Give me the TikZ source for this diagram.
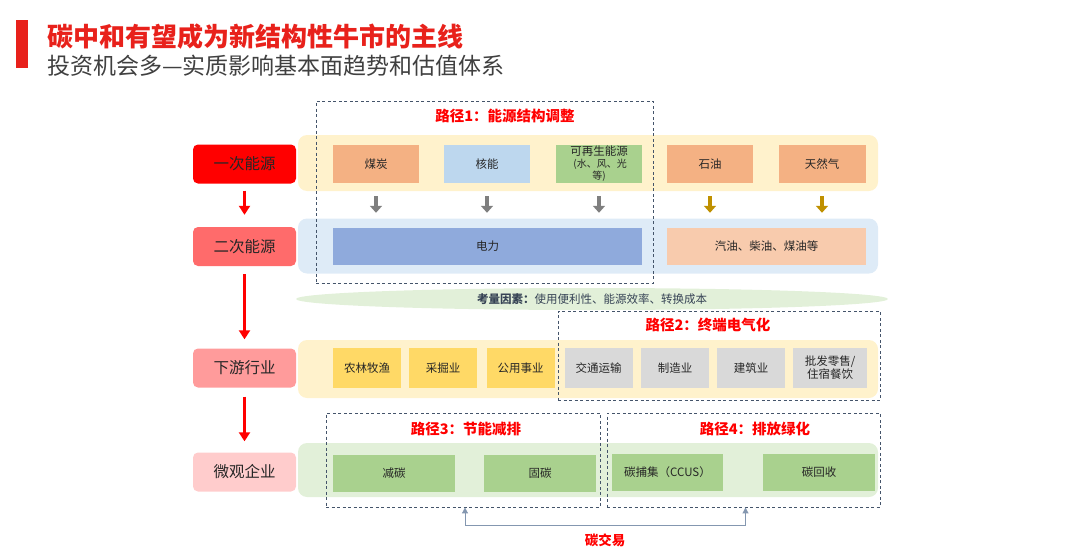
\documentclass[tikz,border=0pt]{standalone}
\usepackage{fontspec}
\setmainfont{Noto Sans CJK SC}
\usetikzlibrary{shapes.geometric,arrows.meta}
\definecolor{titlered}{HTML}{E8211B}
\definecolor{subgray}{HTML}{404040}
\definecolor{lab1}{HTML}{FF0000}
\definecolor{lab2}{HTML}{FF6B6B}
\definecolor{lab3}{HTML}{FF9B9B}
\definecolor{lab4}{HTML}{FFCCCC}
\definecolor{bandY}{HTML}{FFF2CC}
\definecolor{bandB}{HTML}{DEEBF7}
\definecolor{bandG}{HTML}{E2F0D9}
\definecolor{orangeF}{HTML}{F4B183}
\definecolor{blueF}{HTML}{BDD7EE}
\definecolor{greenF}{HTML}{A9D18E}
\definecolor{elecF}{HTML}{8FAADC}
\definecolor{peachF}{HTML}{F8CBAD}
\definecolor{yellowF}{HTML}{FFD966}
\definecolor{grayF}{HTML}{D9D9D9}
\definecolor{dashC}{HTML}{44546A}
\definecolor{arrG}{HTML}{7F7F7F}
\definecolor{arrGold}{HTML}{BF9000}
\definecolor{tradeC}{HTML}{8497B0}
\definecolor{txt}{HTML}{262626}
\tikzset{
  labbox/.style={rounded corners=5pt, minimum width=103, minimum height=39, font=\fontsize{15.5}{17}\selectfont, text=txt, inner sep=0pt},
  band/.style={rounded corners=9pt, inner sep=0pt},
  cell/.style={minimum height=38, inner sep=1pt, font=\fontsize{11.5}{13}\selectfont, text=txt, align=center},
  pathbox/.style={draw=dashC, dash pattern=on 3pt off 2.5pt, line width=0.9pt, inner sep=0pt},
  pathtitle/.style={font=\fontsize{14.5}{16}\bfseries\selectfont, text=lab1},
  redarrow/.style={draw=lab1, line width=3.5pt, -{Triangle[length=9pt,width=11pt]}},
  grayarrow/.style={draw=arrG, line width=4pt, -{Triangle[length=7pt,width=12pt]}},
  goldarrow/.style={draw=arrGold, line width=4pt, -{Triangle[length=7pt,width=12pt]}},
}
\begin{document}
\begin{tikzpicture}[x=1pt,y=-1pt]
\useasboundingbox (0,0) rectangle (1080,549);
% header
\fill[titlered] (16,20) rectangle (28,68);
\node[anchor=west, inner sep=0pt, text=titlered, font=\fontsize{26}{28}\bfseries\selectfont] (title) at (47,37) {碳中和有望成为新结构性牛市的主线};
\node[anchor=west, inner sep=0pt, text=subgray, font=\fontsize{23}{25}\selectfont] (subtitle) at (47,66) {投资机会多—实质影响基本面趋势和估值体系};

% bands
\node[band, fill=bandY, minimum width=580, minimum height=56] (b1) at (588,163) {};
\node[band, fill=bandB, minimum width=580, minimum height=55] (b2) at (588,246) {};
\node[band, fill=bandY, minimum width=580, minimum height=58] (b3) at (588,369) {};
\node[band, fill=bandG, minimum width=580, minimum height=54] (b4) at (588,470) {};

% left labels
\node[labbox, fill=lab1] (l1) at (244.5,164) {一次能源};
\node[labbox, fill=lab2] (l2) at (244.5,246.5) {二次能源};
\node[labbox, fill=lab3] (l3) at (244.5,368) {下游行业};
\node[labbox, fill=lab4] (l4) at (244.5,472) {微观企业};
\draw[redarrow, shorten <=7pt, shorten >=12pt] (l1) -- (l2);
\draw[redarrow, shorten <=8pt, shorten >=9pt] (l2) -- (l3);
\draw[redarrow, shorten <=9pt, shorten >=11pt] (l3) -- (l4);

% row 1
\node[cell, fill=orangeF, minimum width=86] (coal) at (376,164) {煤炭};
\node[cell, fill=blueF, minimum width=86] (nuc) at (487,164) {核能};
\node[cell, fill=greenF, minimum width=86, font=\fontsize{11.5}{12}\selectfont, inner sep=0pt] (ren) at (599,164) {可再生能源\\{\fontsize{10}{12}\selectfont \ (水、风、光}\\{\fontsize{10}{12}\selectfont 等)}};
\node[cell, fill=orangeF, minimum width=86] (oil) at (710,164) {石油};
\node[cell, fill=orangeF, minimum width=87] (gas) at (822,164) {天然气};

% row 2
\node[cell, fill=elecF, minimum width=309, minimum height=37] (elec) at (487.5,246.5) {电力};
\node[cell, fill=peachF, minimum width=199, minimum height=37] (fuel) at (766.5,246.5) {汽油、柴油、煤油等};

\draw[grayarrow, shorten <=13pt, shorten >=15pt] (coal.south) -- (coal.south |- elec.north);
\draw[grayarrow, shorten <=13pt, shorten >=15pt] (nuc.south) -- (nuc.south |- elec.north);
\draw[grayarrow, shorten <=13pt, shorten >=15pt] (ren.south) -- (ren.south |- elec.north);
\draw[goldarrow, shorten <=13pt, shorten >=15pt] (oil.south) -- (oil.south |- fuel.north);
\draw[goldarrow, shorten <=13pt, shorten >=15pt] (gas.south) -- (gas.south |- fuel.north);

% path 1
\node[pathbox, minimum width=337, minimum height=182] (p1) at (484.5,192) {};
\node[pathtitle] (p1t) at (505,116) {路径1：能源结构调整};

% ellipse
\node[ellipse, fill=bandG, minimum width=592, minimum height=22, inner sep=0pt, font=\fontsize{11.5}{13}\selectfont, text=dashC!80!black] (cons) at (592,299) {\textbf{考量因素：}使用便利性、能源效率、转换成本};

% row 3
\node[cell, fill=yellowF, minimum width=68, minimum height=40] (agr) at (367,368) {农林牧渔};
\node[cell, fill=yellowF, minimum width=68, minimum height=40] (min) at (443,368) {采掘业};
\node[cell, fill=yellowF, minimum width=68, minimum height=40] (uti) at (520.5,368) {公用事业};
\node[cell, fill=grayF, minimum width=68, minimum height=40] (tra) at (598.5,368) {交通运输};
\node[cell, fill=grayF, minimum width=68, minimum height=40] (man) at (675,368) {制造业};
\node[cell, fill=grayF, minimum width=68, minimum height=40] (con) at (751,368) {建筑业};
\node[cell, fill=grayF, minimum width=74, minimum height=40, font=\fontsize{11.5}{13}\selectfont] (ret) at (830,368) {批发零售/\\住宿餐饮};

% path 2
\node[pathbox, minimum width=322, minimum height=89] (p2) at (719,355.5) {};
\node[pathtitle] (p2t) at (708,325) {路径2：终端电气化};

% row 4
\node[cell, fill=greenF, minimum width=122, minimum height=37] (red) at (394,473) {减碳};
\node[cell, fill=greenF, minimum width=112, minimum height=37] (fix) at (540,473) {固碳};
\node[cell, fill=greenF, minimum width=111, minimum height=37] (ccus) at (667.5,472) {碳捕集（CCUS）};
\node[cell, fill=greenF, minimum width=112, minimum height=37] (rec) at (819,472) {碳回收};

% path 3 & 4
\node[pathbox, minimum width=274, minimum height=94] (p3) at (463,460) {};
\node[pathtitle] (p3t) at (466,429) {路径3：节能减排};
\node[pathbox, minimum width=273, minimum height=94] (p4) at (743.5,460) {};
\node[pathtitle] (p4t) at (755,429) {路径4：排放绿化};

% carbon trading
\draw[draw=tradeC, line width=1pt, {Triangle[length=6pt,width=6pt]}-{Triangle[length=6pt,width=6pt]}] ([xshift=2pt]p3.south) -- ++(0,18) -| ([xshift=2pt]p4.south);
\node[pathtitle, font=\fontsize{13.5}{15}\bfseries\selectfont] (trade) at (605,540) {碳交易};
\end{tikzpicture}
\end{document}
